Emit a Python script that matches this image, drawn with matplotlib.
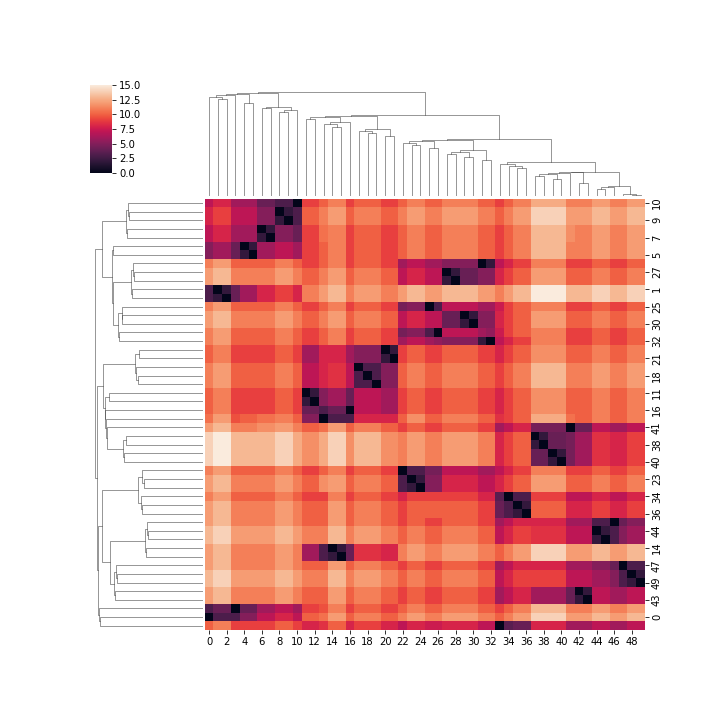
import numpy as np
import matplotlib
matplotlib.use("Agg")
import matplotlib.pyplot as plt
import seaborn as sns

# the 50 points fall into tight groups (natural index order)
groups = [[0], [1, 2], [3], [4, 5], [6, 7], [8, 9], [10], [11, 12], [13], [14, 15],
          [16], [17, 18, 19], [20, 21], [22], [23, 24], [25], [26], [27, 28], [29, 30],
          [31], [32], [33], [34], [35, 36], [37, 38], [39, 40], [41], [42, 43], [44, 45],
          [46], [47], [48, 49]]

# distance between groups, one hex digit (0..15) per group; diagonal = distance inside the group
group_dist = [
    "0335787abcababcbbccbbabceeccdccd",
    "3246898bddbcbcdccddccbcdffddedde",
    "34046769ab9a9abaabbaa9abddbbcbbc",
    "56426769bb9a9abaabbaa9abddbbcbbc",
    "78662549bb9a9abaabbaa9abddbbcbbc",
    "8977523accababcbbccbbabceeccdccd",
    "78664309bb9a9abaabbaa9abccbbcbbc",
    "ab999a92564769a99aa9989abbaabaab",
    "ab99aa9503388ab99aa9989accaabaab",
    "cdbbbcb632488bcbbccbbabceeccdccd",
    "ab999a94340769a99aa9989abbaabaab",
    "bcaaaba789735abaabbaa9abddbbcbbc",
    "ab999a96886529a99aa9989abbaabaab",
    "bcaaaba9ab9a903557766789bb99a99a",
    "cdbbbcbaccaba3255887789accaabaab",
    "bcaaaba9bb9a94503776689abb99a99a",
    "bcaaaba9bb9a94530776689abb99a99a",
    "cdbbbcbaccaba7877245589accaabaab",
    "cdbbbcbaccaba7877425589accaabaab",
    "bcaaaba9bb9a967665502789bb99a99a",
    "bcaaaba9bb9a967655520789bb99a99a",
    "ab999a989a8987877887703488667667",
    "bcaaaba99b9a98999998840399778778",
    "cdbbbcbaacaba9aaaaa99432aa889889",
    "efdddedcdecdcbcbbccbb89a24569889",
    "efdddedcdecdcbcbbccbb89a42569889",
    "cdbbccbabcaba9a99aa9967844047667",
    "cdbbbcbaacaba9a99aa9967866427667",
    "decccdcbbdbcbabaabbaa78988772356",
    "cdbbbcbaacaba9a99aa9967888663045",
    "cdbbbcbaacaba9a99aa9967888665403",
    "decccdcbbdbcbabaabbaa78999776532",
]

# order of the rows as shown (top to bottom); columns stay 0..49
row_order = [10, 8, 9, 6, 7, 4, 5, 31, 27, 28, 1, 2, 25, 29, 30, 26, 32, 20, 21, 17,
             18, 19, 11, 12, 16, 13, 41, 37, 38, 39, 40, 22, 23, 24, 34, 35, 36, 46, 44, 45,
             14, 15, 47, 48, 49, 42, 43, 3, 0, 33]

# dendrograms as nested (height, left, right); leaves are row positions / column indices
row_tree = (108.0,
    (101.6,
        (77.3, (75.0, 0, (74.0, 1, 2)), (76.0, 3, 4)),
        (91.6,
            (90.0, 5, 6),
            (90.6,
                (72.6, (70.0, 7, (69.0, 8, 9)), (71.0, 10, 11)),
                (85.0, (81.6, 12, (81.0, 13, 14)), (84.0, 15, 16))))),
    (106.6,
        (100.0,
            (68.3, (64.0, 17, 18), (67.3, 19, (65.6, 20, 21))),
            (98.8, (94.0, 22, 23),
                (98.3, 24, (97.3, 25, (96.0, 26, (80.0, (77.6, 27, 28), (79.0, 29, 30))))))),
        (105.0,
            (101.0,
                (65.0, (61.0, 31, (59.0, 32, 33)), (62.6, 34, (61.6, 35, 36))),
                (93.3,
                    (58.0, (56.0, 37, (55.0, 38, 39)), (57.3, 40, 41)),
                    (89.3, (87.3, 42, (86.0, 43, 44)), (88.3, 45, 46)))),
            (104.3, 47, (103.3, 48, 49)))))

col_tree = (103.7,
    (103.0,
        (102.0, (101.0, (98.7, 0, (96.7, 1, 2)), 3), (92.7, 4, 5)),
        (89.3, (87.7, 6, 7), (85.7, (83.7, 8, 9), 10))),
    (81.0,
        (80.3,
            (78.7, (76.7, 11, 12), (73.7, (71.7, 13, (69.3, 14, 15)), 16)),
            (67.0, (64.7, 17, (62.7, 18, 19)), (59.7, 20, 21))),
        (57.0,
            (56.0,
                (55.0, (52.7, 22, (50.7, 23, 24)), (47.7, 25, 26)),
                (45.7, (44.3, (41.7, 27, 28), (38.7, 29, 30)), (35.7, 31, 32))),
            (33.7,
                (31.7, 33, (29.7, 34, (27.7, 35, 36))),
                (24.3,
                    (23.7, (22.7, (21.7, (19.7, 37, 38), (16.7, 39, 40)), 41), (12.7, 42, 43)),
                    (9.7, (8.7, (6.7, 44, 45), 46), (2.3, 47, (0.7, 48, 49))))))))


def draw_tree(ax, node, rotate):
    # returns (leaf axis position, height) of the node
    if isinstance(node, int):
        return node + 0.5, 0.0
    h, left, right = node
    p1, h1 = draw_tree(ax, left, rotate)
    p2, h2 = draw_tree(ax, right, rotate)
    pos = [p1, p1, p2, p2]
    hts = [h1, h, h, h2]
    if rotate:
        ax.plot(hts, pos, color=(.2, .2, .2), lw=.5)
    else:
        ax.plot(pos, hts, color=(.2, .2, .2), lw=.5)
    return (p1 + p2) / 2, h


# build the full matrix from the groups
gmat = np.array([[int(ch, 16) for ch in row] for row in group_dist], dtype=float)
gmat = (gmat + gmat.T) / 2
member = np.zeros(50, dtype=int)
for g, pts in enumerate(groups):
    member[pts] = g
dist = gmat[member][:, member]
np.fill_diagonal(dist, 0.0)
values = dist[row_order]

cmap = sns.color_palette("rocket", as_cmap=True)

fig = plt.figure(figsize=(10, 10), dpi=72)
ax_heat = fig.add_axes([0.2842, 0.125, 0.6117, 0.599])
ax_row = fig.add_axes([0.1278, 0.125, 0.1546, 0.599])
ax_col = fig.add_axes([0.2842, 0.7278, 0.6117, 0.1514])
cax = fig.add_axes([0.125, 0.7597, 0.0306, 0.1222])

mesh = ax_heat.pcolormesh(values, cmap=cmap, vmin=0, vmax=15)
ax_heat.set_xlim(0, 50)
ax_heat.set_ylim(50, 0)
ax_heat.set_xticks(np.arange(0, 50, 2) + 0.5)
ax_heat.set_xticklabels([str(k) for k in range(0, 50, 2)])
ax_heat.yaxis.tick_right()
ax_heat.set_yticks(np.arange(0, 50, 2) + 0.5)
ax_heat.set_yticklabels([str(k) for k in row_order[::2]], rotation=90, va="center")
for sp in ax_heat.spines.values():
    sp.set_visible(False)

draw_tree(ax_row, row_tree, rotate=True)
ax_row.set_xlim(111.3, 0)
ax_row.set_ylim(50, 0)
ax_row.set_axis_off()

draw_tree(ax_col, col_tree, rotate=False)
ax_col.set_xlim(0, 50)
ax_col.set_ylim(0, 109)
ax_col.set_axis_off()

cb = fig.colorbar(mesh, cax=cax, ticks=np.arange(0, 15.1, 2.5), format="%.1f")
cb.outline.set_visible(False)

fig.savefig("out.png", dpi=72)
